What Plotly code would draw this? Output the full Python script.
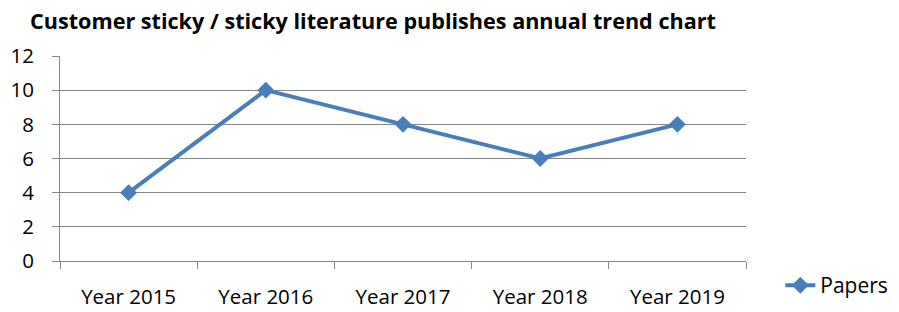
import plotly.graph_objects as go

categories = ["Year 2015", "Year 2016", "Year 2017", "Year 2018", "Year 2019"]
papers = [4, 10, 8, 6, 8]
series_name = "Papers"
title_text = "Customer sticky / sticky literature publishes annual trend chart"

FONT = "Open Sans"
fig = go.Figure()
fig.add_trace(go.Scatter(
    x=categories, y=papers, name=series_name, mode="lines+markers",
    line=dict(color="#4A7EBB", width=4),
    marker=dict(symbol="diamond", size=13, color="#4A7EBB"),
))
fig.update_layout(
    template="none",
    width=899, height=312,
    margin=dict(l=60, r=153, t=56, b=51, autoexpand=False),
    paper_bgcolor="white", plot_bgcolor="white",
    font=dict(family=FONT, size=20.5, color="#000000"),
    title=dict(text="<b>" + title_text + "</b>", x=30/899, xanchor="left",
               y=1 - 21/312, yanchor="middle",
               font=dict(family=FONT, size=21.6, color="#000000")),
    showlegend=True,
    legend=dict(x=1.05, xanchor="left", y=-0.12, yanchor="middle",
                font=dict(family=FONT, size=21), bgcolor="rgba(0,0,0,0)"),
    xaxis=dict(type="category", showgrid=False, showline=True, linecolor="#868686",
               linewidth=1, ticks="outside", tickson="boundaries", ticklen=7,
               tickcolor="#868686", range=[-0.5, 4.5], ticklabelstandoff=17,
               automargin=False, zeroline=False),
    yaxis=dict(range=[0, 12], dtick=2, showgrid=True, gridcolor="#868686",
               gridwidth=1, showline=True, linecolor="#868686", ticks="outside",
               ticklen=7, tickcolor="#868686", zeroline=False, ticklabelstandoff=14,
               automargin=False),
)
fig.write_html("out.html", config={"displayModeBar": False},
               post_script="document.body.style.margin='0';")
